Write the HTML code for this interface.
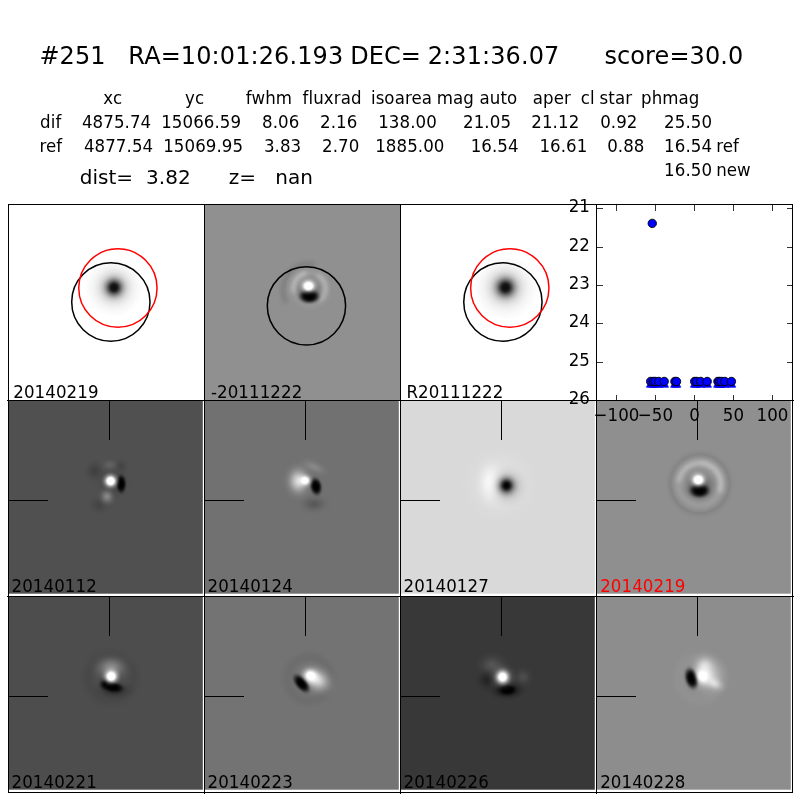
<!DOCTYPE html>
<html><head><meta charset="utf-8"><title>#251</title>
<style>html,body{margin:0;padding:0;background:#fff;width:800px;height:800px;overflow:hidden}svg{display:block}text{font-family:"DejaVu Sans","Liberation Sans",sans-serif;fill:#000;white-space:pre}.t{font-size:24px;letter-spacing:0.1px}.m{font-size:16.667px;letter-spacing:0.07px}.l{font-size:20px;letter-spacing:0.05px}</style></head><body>
<svg width="800" height="800" viewBox="0 0 800 800">
<rect width="800" height="800" fill="#fff"/>
<text class="t" transform="translate(0 63.75) scale(1 1.025)"><tspan x="39.40">#251</tspan> <tspan x="128.34">RA=10:01:26.193</tspan> <tspan x="350.14">DEC=</tspan> <tspan x="427.74">2:31:36.07</tspan> <tspan x="604.45">score=30.0</tspan></text>
<text class="m" transform="translate(0 103.75) scale(1 1.085)"><tspan x="103.27">xc</tspan> <tspan x="185.00">yc</tspan> <tspan x="245.87">fwhm</tspan> <tspan x="302.62">fluxrad</tspan> <tspan x="370.93">isoarea</tspan> <tspan x="436.74">mag</tspan> <tspan x="479.50">auto</tspan> <tspan x="532.75">aper</tspan> <tspan x="580.83">cl</tspan> <tspan x="599.60">star</tspan> <tspan x="640.99">phmag</tspan></text>
<text class="m" transform="translate(0 127.50) scale(1 1.085)"><tspan x="40.08">dif</tspan> <tspan x="81.89">4875.74</tspan> <tspan x="161.17">15066.59</tspan> <tspan x="262.07">8.06</tspan> <tspan x="319.98">2.16</tspan> <tspan x="378.17">138.00</tspan> <tspan x="463.03">21.05</tspan> <tspan x="531.28">21.12</tspan> <tspan x="600.15">0.92</tspan> <tspan x="664.08">25.50</tspan></text>
<text class="m" transform="translate(0 152.20) scale(1 1.085)"><tspan x="39.49">ref</tspan> <tspan x="83.89">4877.54</tspan> <tspan x="163.17">15069.95</tspan> <tspan x="263.93">3.83</tspan> <tspan x="321.98">2.70</tspan> <tspan x="375.17">1885.00</tspan> <tspan x="470.67">16.54</tspan> <tspan x="539.42">16.61</tspan> <tspan x="607.15">0.88</tspan> <tspan x="664.07">16.54</tspan> <tspan x="716.19">ref</tspan></text>
<text class="m" transform="translate(0 175.95) scale(1 1.085)"><tspan x="664.07">16.50</tspan> <tspan x="716.19">new</tspan></text>
<text class="l" transform="translate(0 184.00) scale(1 1.000)"><tspan x="79.65">dist=</tspan> <tspan x="145.98">3.82</tspan> <tspan x="228.64">z=</tspan> <tspan x="275.18">nan</tspan></text>
<rect x="8.50" y="204.50" width="196.00" height="196.00" fill="#ffffff"/>
<rect x="204.50" y="204.50" width="196.00" height="196.00" fill="#909090"/>
<rect x="400.50" y="204.50" width="196.00" height="196.00" fill="#ffffff"/>
<rect x="8.50" y="400.50" width="194.30" height="193.20" fill="#505050"/>
<rect x="204.50" y="400.50" width="194.30" height="193.20" fill="#717171"/>
<rect x="400.50" y="400.50" width="194.30" height="193.20" fill="#d9d9d9"/>
<rect x="596.50" y="400.50" width="194.30" height="193.20" fill="#8f8f8f"/>
<rect x="8.50" y="596.50" width="194.30" height="193.20" fill="#4d4d4d"/>
<rect x="204.50" y="596.50" width="194.30" height="193.20" fill="#737373"/>
<rect x="400.50" y="596.50" width="194.30" height="193.20" fill="#383838"/>
<rect x="596.50" y="596.50" width="194.30" height="193.20" fill="#8d8d8d"/>
<defs>
<filter id="b1" x="-100%" y="-100%" width="300%" height="300%" filterUnits="objectBoundingBox"><feGaussianBlur stdDeviation="1.2"/></filter>
<filter id="b2" x="-100%" y="-100%" width="300%" height="300%" filterUnits="objectBoundingBox"><feGaussianBlur stdDeviation="2.0"/></filter>
<filter id="b3" x="-100%" y="-100%" width="300%" height="300%" filterUnits="objectBoundingBox"><feGaussianBlur stdDeviation="3.0"/></filter>
<filter id="b5" x="-100%" y="-100%" width="300%" height="300%" filterUnits="objectBoundingBox"><feGaussianBlur stdDeviation="5.0"/></filter>
<radialGradient id="gal"><stop offset="0.0000" stop-color="#000" stop-opacity="0.950"/><stop offset="0.0833" stop-color="#000" stop-opacity="0.930"/><stop offset="0.1333" stop-color="#000" stop-opacity="0.850"/><stop offset="0.1833" stop-color="#000" stop-opacity="0.700"/><stop offset="0.2333" stop-color="#000" stop-opacity="0.550"/><stop offset="0.2833" stop-color="#000" stop-opacity="0.420"/><stop offset="0.3500" stop-color="#000" stop-opacity="0.280"/><stop offset="0.4333" stop-color="#000" stop-opacity="0.170"/><stop offset="0.5333" stop-color="#000" stop-opacity="0.100"/><stop offset="0.6667" stop-color="#000" stop-opacity="0.050"/><stop offset="0.8333" stop-color="#000" stop-opacity="0.020"/><stop offset="1.0000" stop-color="#000" stop-opacity="0.000"/></radialGradient>
<radialGradient id="gW"><stop offset="0.000" stop-color="#fff" stop-opacity="1.000"/><stop offset="0.050" stop-color="#fff" stop-opacity="0.988"/><stop offset="0.100" stop-color="#fff" stop-opacity="0.955"/><stop offset="0.150" stop-color="#fff" stop-opacity="0.902"/><stop offset="0.200" stop-color="#fff" stop-opacity="0.833"/><stop offset="0.250" stop-color="#fff" stop-opacity="0.752"/><stop offset="0.300" stop-color="#fff" stop-opacity="0.664"/><stop offset="0.350" stop-color="#fff" stop-opacity="0.572"/><stop offset="0.400" stop-color="#fff" stop-opacity="0.482"/><stop offset="0.450" stop-color="#fff" stop-opacity="0.397"/><stop offset="0.500" stop-color="#fff" stop-opacity="0.319"/><stop offset="0.550" stop-color="#fff" stop-opacity="0.250"/><stop offset="0.600" stop-color="#fff" stop-opacity="0.191"/><stop offset="0.650" stop-color="#fff" stop-opacity="0.142"/><stop offset="0.700" stop-color="#fff" stop-opacity="0.102"/><stop offset="0.750" stop-color="#fff" stop-opacity="0.071"/><stop offset="0.800" stop-color="#fff" stop-opacity="0.047"/><stop offset="0.850" stop-color="#fff" stop-opacity="0.029"/><stop offset="0.900" stop-color="#fff" stop-opacity="0.016"/><stop offset="0.950" stop-color="#fff" stop-opacity="0.007"/><stop offset="1.000" stop-color="#fff" stop-opacity="0.000"/></radialGradient>
<radialGradient id="gK"><stop offset="0.000" stop-color="#000" stop-opacity="1.000"/><stop offset="0.050" stop-color="#000" stop-opacity="0.988"/><stop offset="0.100" stop-color="#000" stop-opacity="0.955"/><stop offset="0.150" stop-color="#000" stop-opacity="0.902"/><stop offset="0.200" stop-color="#000" stop-opacity="0.833"/><stop offset="0.250" stop-color="#000" stop-opacity="0.752"/><stop offset="0.300" stop-color="#000" stop-opacity="0.664"/><stop offset="0.350" stop-color="#000" stop-opacity="0.572"/><stop offset="0.400" stop-color="#000" stop-opacity="0.482"/><stop offset="0.450" stop-color="#000" stop-opacity="0.397"/><stop offset="0.500" stop-color="#000" stop-opacity="0.319"/><stop offset="0.550" stop-color="#000" stop-opacity="0.250"/><stop offset="0.600" stop-color="#000" stop-opacity="0.191"/><stop offset="0.650" stop-color="#000" stop-opacity="0.142"/><stop offset="0.700" stop-color="#000" stop-opacity="0.102"/><stop offset="0.750" stop-color="#000" stop-opacity="0.071"/><stop offset="0.800" stop-color="#000" stop-opacity="0.047"/><stop offset="0.850" stop-color="#000" stop-opacity="0.029"/><stop offset="0.900" stop-color="#000" stop-opacity="0.016"/><stop offset="0.950" stop-color="#000" stop-opacity="0.007"/><stop offset="1.000" stop-color="#000" stop-opacity="0.000"/></radialGradient>
<radialGradient id="fW"><stop offset="0.000" stop-color="#fff" stop-opacity="1.000"/><stop offset="0.050" stop-color="#fff" stop-opacity="1.000"/><stop offset="0.100" stop-color="#fff" stop-opacity="0.999"/><stop offset="0.150" stop-color="#fff" stop-opacity="0.996"/><stop offset="0.200" stop-color="#fff" stop-opacity="0.988"/><stop offset="0.250" stop-color="#fff" stop-opacity="0.970"/><stop offset="0.300" stop-color="#fff" stop-opacity="0.939"/><stop offset="0.350" stop-color="#fff" stop-opacity="0.890"/><stop offset="0.400" stop-color="#fff" stop-opacity="0.821"/><stop offset="0.450" stop-color="#fff" stop-opacity="0.729"/><stop offset="0.500" stop-color="#fff" stop-opacity="0.617"/><stop offset="0.550" stop-color="#fff" stop-opacity="0.493"/><stop offset="0.600" stop-color="#fff" stop-opacity="0.368"/><stop offset="0.650" stop-color="#fff" stop-opacity="0.252"/><stop offset="0.700" stop-color="#fff" stop-opacity="0.156"/><stop offset="0.750" stop-color="#fff" stop-opacity="0.087"/><stop offset="0.800" stop-color="#fff" stop-opacity="0.042"/><stop offset="0.850" stop-color="#fff" stop-opacity="0.017"/><stop offset="0.900" stop-color="#fff" stop-opacity="0.006"/><stop offset="0.950" stop-color="#fff" stop-opacity="0.001"/><stop offset="1.000" stop-color="#fff" stop-opacity="0.000"/></radialGradient>
<radialGradient id="fK"><stop offset="0.000" stop-color="#000" stop-opacity="1.000"/><stop offset="0.050" stop-color="#000" stop-opacity="1.000"/><stop offset="0.100" stop-color="#000" stop-opacity="0.999"/><stop offset="0.150" stop-color="#000" stop-opacity="0.996"/><stop offset="0.200" stop-color="#000" stop-opacity="0.988"/><stop offset="0.250" stop-color="#000" stop-opacity="0.970"/><stop offset="0.300" stop-color="#000" stop-opacity="0.939"/><stop offset="0.350" stop-color="#000" stop-opacity="0.890"/><stop offset="0.400" stop-color="#000" stop-opacity="0.821"/><stop offset="0.450" stop-color="#000" stop-opacity="0.729"/><stop offset="0.500" stop-color="#000" stop-opacity="0.617"/><stop offset="0.550" stop-color="#000" stop-opacity="0.493"/><stop offset="0.600" stop-color="#000" stop-opacity="0.368"/><stop offset="0.650" stop-color="#000" stop-opacity="0.252"/><stop offset="0.700" stop-color="#000" stop-opacity="0.156"/><stop offset="0.750" stop-color="#000" stop-opacity="0.087"/><stop offset="0.800" stop-color="#000" stop-opacity="0.042"/><stop offset="0.850" stop-color="#000" stop-opacity="0.017"/><stop offset="0.900" stop-color="#000" stop-opacity="0.006"/><stop offset="0.950" stop-color="#000" stop-opacity="0.001"/><stop offset="1.000" stop-color="#000" stop-opacity="0.000"/></radialGradient>
<radialGradient id="hW"><stop offset="0.000" stop-color="#fff" stop-opacity="1.000"/><stop offset="0.050" stop-color="#fff" stop-opacity="0.999"/><stop offset="0.100" stop-color="#fff" stop-opacity="0.998"/><stop offset="0.150" stop-color="#fff" stop-opacity="0.997"/><stop offset="0.200" stop-color="#fff" stop-opacity="0.996"/><stop offset="0.250" stop-color="#fff" stop-opacity="0.996"/><stop offset="0.300" stop-color="#fff" stop-opacity="0.995"/><stop offset="0.350" stop-color="#fff" stop-opacity="0.916"/><stop offset="0.400" stop-color="#fff" stop-opacity="0.772"/><stop offset="0.450" stop-color="#fff" stop-opacity="0.635"/><stop offset="0.500" stop-color="#fff" stop-opacity="0.511"/><stop offset="0.550" stop-color="#fff" stop-opacity="0.400"/><stop offset="0.600" stop-color="#fff" stop-opacity="0.306"/><stop offset="0.650" stop-color="#fff" stop-opacity="0.227"/><stop offset="0.700" stop-color="#fff" stop-opacity="0.164"/><stop offset="0.750" stop-color="#fff" stop-opacity="0.114"/><stop offset="0.800" stop-color="#fff" stop-opacity="0.076"/><stop offset="0.850" stop-color="#fff" stop-opacity="0.047"/><stop offset="0.900" stop-color="#fff" stop-opacity="0.026"/><stop offset="0.950" stop-color="#fff" stop-opacity="0.011"/><stop offset="1.000" stop-color="#fff" stop-opacity="0.000"/></radialGradient>
<radialGradient id="hK"><stop offset="0.000" stop-color="#000" stop-opacity="1.000"/><stop offset="0.050" stop-color="#000" stop-opacity="0.999"/><stop offset="0.100" stop-color="#000" stop-opacity="0.998"/><stop offset="0.150" stop-color="#000" stop-opacity="0.997"/><stop offset="0.200" stop-color="#000" stop-opacity="0.996"/><stop offset="0.250" stop-color="#000" stop-opacity="0.996"/><stop offset="0.300" stop-color="#000" stop-opacity="0.995"/><stop offset="0.350" stop-color="#000" stop-opacity="0.916"/><stop offset="0.400" stop-color="#000" stop-opacity="0.772"/><stop offset="0.450" stop-color="#000" stop-opacity="0.635"/><stop offset="0.500" stop-color="#000" stop-opacity="0.511"/><stop offset="0.550" stop-color="#000" stop-opacity="0.400"/><stop offset="0.600" stop-color="#000" stop-opacity="0.306"/><stop offset="0.650" stop-color="#000" stop-opacity="0.227"/><stop offset="0.700" stop-color="#000" stop-opacity="0.164"/><stop offset="0.750" stop-color="#000" stop-opacity="0.114"/><stop offset="0.800" stop-color="#000" stop-opacity="0.076"/><stop offset="0.850" stop-color="#000" stop-opacity="0.047"/><stop offset="0.900" stop-color="#000" stop-opacity="0.026"/><stop offset="0.950" stop-color="#000" stop-opacity="0.011"/><stop offset="1.000" stop-color="#000" stop-opacity="0.000"/></radialGradient>
<clipPath id="cp00"><rect x="8.50" y="204.50" width="196.00" height="196.00"/></clipPath>
<clipPath id="cp01"><rect x="204.50" y="204.50" width="196.00" height="196.00"/></clipPath>
<clipPath id="cp02"><rect x="400.50" y="204.50" width="196.00" height="196.00"/></clipPath>
<clipPath id="cp03"><rect x="596.50" y="204.50" width="196.00" height="196.00"/></clipPath>
<clipPath id="cp10"><rect x="8.50" y="400.50" width="194.30" height="193.20"/></clipPath>
<clipPath id="cp11"><rect x="204.50" y="400.50" width="194.30" height="193.20"/></clipPath>
<clipPath id="cp12"><rect x="400.50" y="400.50" width="194.30" height="193.20"/></clipPath>
<clipPath id="cp13"><rect x="596.50" y="400.50" width="194.30" height="193.20"/></clipPath>
<clipPath id="cp20"><rect x="8.50" y="596.50" width="194.30" height="193.20"/></clipPath>
<clipPath id="cp21"><rect x="204.50" y="596.50" width="194.30" height="193.20"/></clipPath>
<clipPath id="cp22"><rect x="400.50" y="596.50" width="194.30" height="193.20"/></clipPath>
<clipPath id="cp23"><rect x="596.50" y="596.50" width="194.30" height="193.20"/></clipPath>
</defs>
<circle cx="114" cy="287.5" r="30" fill="url(#gal)"/>
<circle cx="505.5" cy="287.5" r="33" fill="url(#gal)"/>
<g clip-path="url(#cp01)">
<g filter="url(#b2)"><circle cx="309" cy="290" r="26" fill="none" stroke="#000" stroke-opacity="0.12" stroke-width="5" stroke-dasharray="60 200" transform="rotate(150 309 290)"/><circle cx="309.5" cy="288.5" r="15.8" fill="none" stroke="#fff" stroke-opacity="0.12" stroke-width="5"/><circle cx="309.5" cy="288.5" r="15.8" fill="none" stroke="#fff" stroke-opacity="0.32" stroke-width="5" stroke-dasharray="26 200" transform="rotate(165 309.5 288.5)"/><circle cx="309.5" cy="288.5" r="15.8" fill="none" stroke="#fff" stroke-opacity="0.26" stroke-width="5" stroke-dasharray="30 200" transform="rotate(300 309.5 288.5)"/></g>
<g><ellipse cx="309" cy="291" rx="19" ry="19" fill="url(#gK)" fill-opacity="0.45"/><ellipse cx="309.3" cy="296.4" rx="15" ry="10" fill="url(#fK)" fill-opacity="1"/><ellipse cx="308.5" cy="286" rx="12" ry="10.5" fill="url(#hW)" fill-opacity="1"/></g>
</g>
<g clip-path="url(#cp13)">
<g filter="url(#b2)"><circle cx="699.8" cy="484" r="28.5" fill="none" stroke="#000" stroke-opacity="0.1" stroke-width="5"/><circle cx="699.8" cy="484" r="21" fill="none" stroke="#fff" stroke-opacity="0.14" stroke-width="6"/><circle cx="699.8" cy="484" r="21" fill="none" stroke="#fff" stroke-opacity="0.26" stroke-width="6" stroke-dasharray="30 200" transform="rotate(185 699.8 484)"/><circle cx="699.8" cy="484" r="21" fill="none" stroke="#fff" stroke-opacity="0.32" stroke-width="6" stroke-dasharray="42 200" transform="rotate(268 699.8 484)"/><circle cx="699.5" cy="485" r="14" fill="none" stroke="#fff" stroke-opacity="0.12" stroke-width="4" stroke-dasharray="40 200" transform="rotate(170 699.5 485)"/></g>
<g><ellipse cx="699" cy="485" rx="22" ry="22" fill="url(#gK)" fill-opacity="0.5"/><ellipse cx="699.6" cy="490.6" rx="15" ry="10.5" fill="url(#fK)" fill-opacity="1"/><ellipse cx="698.3" cy="479.8" rx="12" ry="11" fill="url(#hW)" fill-opacity="1"/></g>
</g>
<g clip-path="url(#cp10)">
<g><ellipse cx="95" cy="471" rx="14" ry="15" fill="url(#gK)" fill-opacity="0.2"/><ellipse cx="99" cy="505" rx="15" ry="13" fill="url(#gK)" fill-opacity="0.15"/><ellipse cx="121" cy="466" rx="11" ry="11" fill="url(#gK)" fill-opacity="0.15"/><ellipse cx="113" cy="483" rx="22" ry="22" fill="url(#gK)" fill-opacity="0.2"/><ellipse cx="107" cy="496.5" rx="11" ry="12" fill="url(#gW)" fill-opacity="0.32"/><ellipse cx="110" cy="465" rx="13" ry="9" fill="url(#gW)" fill-opacity="0.1"/><ellipse cx="121.2" cy="484" rx="7.2" ry="13.5" fill="url(#fK)" fill-opacity="1"/><ellipse cx="110.6" cy="481" rx="10.5" ry="10.5" fill="url(#hW)" fill-opacity="1"/></g>
</g>
<g clip-path="url(#cp11)">
<g><ellipse cx="314" cy="504" rx="20" ry="12" fill="url(#gK)" fill-opacity="0.22"/><ellipse cx="314" cy="467" rx="20" ry="9" fill="url(#gW)" fill-opacity="0.16" transform="rotate(25 314 467)"/><ellipse cx="298.5" cy="481" rx="17" ry="21" fill="url(#gW)" fill-opacity="0.75"/><ellipse cx="316" cy="486.5" rx="8.5" ry="13" fill="url(#fK)" fill-opacity="1" transform="rotate(-10 316 486.5)"/><ellipse cx="304.8" cy="480.5" rx="9.5" ry="8.5" fill="url(#hW)" fill-opacity="1"/></g>
</g>
<g clip-path="url(#cp12)">
<g><ellipse cx="500" cy="484" rx="46" ry="46" fill="url(#gW)" fill-opacity="0.4"/><ellipse cx="491" cy="483" rx="18" ry="30" fill="url(#gW)" fill-opacity="0.95"/><ellipse cx="507" cy="486" rx="24" ry="24" fill="url(#gK)" fill-opacity="0.35"/><ellipse cx="506.5" cy="485.5" rx="13" ry="13.5" fill="url(#gK)" fill-opacity="1"/><ellipse cx="506.5" cy="485.5" rx="8" ry="8" fill="url(#gK)" fill-opacity="0.7"/></g>
</g>
<g clip-path="url(#cp20)">
<g filter="url(#b3)"><circle cx="111" cy="678" r="23" fill="none" stroke="#000" stroke-opacity="0.1" stroke-width="6"/></g>
<g><ellipse cx="111" cy="668" rx="24" ry="18" fill="url(#gW)" fill-opacity="0.36"/><ellipse cx="114" cy="690" rx="24" ry="12" fill="url(#gK)" fill-opacity="0.5"/><ellipse cx="105" cy="684" rx="9" ry="9" fill="url(#gK)" fill-opacity="0.9"/><ellipse cx="112.5" cy="687" rx="16" ry="7.5" fill="url(#fK)" fill-opacity="1" transform="rotate(10 112.5 687)"/><ellipse cx="111.2" cy="676.3" rx="11" ry="11" fill="url(#hW)" fill-opacity="1"/></g>
</g>
<g clip-path="url(#cp21)">
<g filter="url(#b3)"><circle cx="309" cy="679" r="22" fill="none" stroke="#000" stroke-opacity="0.08" stroke-width="6"/></g>
<g><ellipse cx="316.5" cy="679.5" rx="24" ry="18" fill="url(#gW)" fill-opacity="0.75" transform="rotate(30 316.5 679.5)"/><ellipse cx="301.5" cy="683.5" rx="8.5" ry="16" fill="url(#fK)" fill-opacity="1" transform="rotate(-40 301.5 683.5)"/><ellipse cx="311" cy="676" rx="12.5" ry="10.5" fill="url(#hW)" fill-opacity="1" transform="rotate(30 311 676)"/></g>
</g>
<g clip-path="url(#cp22)">
<g><ellipse cx="492" cy="665" rx="20" ry="16" fill="url(#gW)" fill-opacity="0.14"/><ellipse cx="523" cy="677" rx="13" ry="13" fill="url(#gW)" fill-opacity="0.1"/><ellipse cx="487" cy="680" rx="15" ry="15" fill="url(#gK)" fill-opacity="0.35"/><ellipse cx="507" cy="690" rx="22" ry="12" fill="url(#gK)" fill-opacity="1"/><ellipse cx="507.5" cy="689.8" rx="11" ry="7" fill="url(#fK)" fill-opacity="1"/><ellipse cx="502.6" cy="677" rx="16" ry="16" fill="url(#gW)" fill-opacity="0.5"/><ellipse cx="502.6" cy="677" rx="10" ry="10.5" fill="url(#hW)" fill-opacity="1"/></g>
</g>
<g clip-path="url(#cp23)">
<g filter="url(#b3)"><circle cx="700" cy="678" r="22" fill="none" stroke="#fff" stroke-opacity="0.06" stroke-width="6"/></g>
<g><ellipse cx="707" cy="675" rx="24" ry="26" fill="url(#gW)" fill-opacity="0.7" transform="rotate(-30 707 675)"/><ellipse cx="704.5" cy="666" rx="15" ry="15" fill="url(#gW)" fill-opacity="0.6"/><ellipse cx="714" cy="683" rx="16" ry="10" fill="url(#gW)" fill-opacity="0.6" transform="rotate(30 714 683)"/><ellipse cx="691.5" cy="678.5" rx="9.5" ry="16" fill="url(#fK)" fill-opacity="1" transform="rotate(-15 691.5 678.5)"/><ellipse cx="703" cy="676" rx="11" ry="13" fill="url(#hW)" fill-opacity="1" transform="rotate(-20 703 676)"/></g>
</g>
<g stroke="#000" stroke-width="1" fill="none" shape-rendering="crispEdges">
<line x1="8.5" y1="204" x2="8.5" y2="793"/>
<line x1="204.5" y1="204" x2="204.5" y2="794"/>
<line x1="400.5" y1="204" x2="400.5" y2="794"/>
<line x1="596.5" y1="204" x2="596.5" y2="794"/>
<line x1="792.5" y1="204" x2="792.5" y2="793"/>
<line x1="8" y1="204.5" x2="793" y2="204.5"/>
<line x1="7" y1="400.5" x2="794" y2="400.5"/>
<line x1="7" y1="596.5" x2="794" y2="596.5"/>
<line x1="8" y1="792.5" x2="793" y2="792.5"/>
<line x1="109.5" y1="400.0" x2="109.5" y2="439.8"/>
<line x1="8.0" y1="500.5" x2="48.0" y2="500.5"/>
<line x1="305.5" y1="400.0" x2="305.5" y2="439.8"/>
<line x1="204.0" y1="500.5" x2="244.0" y2="500.5"/>
<line x1="501.5" y1="400.0" x2="501.5" y2="439.8"/>
<line x1="400.0" y1="500.5" x2="440.0" y2="500.5"/>
<line x1="697.5" y1="400.0" x2="697.5" y2="439.8"/>
<line x1="596.0" y1="500.5" x2="636.0" y2="500.5"/>
<line x1="109.5" y1="596.0" x2="109.5" y2="635.8"/>
<line x1="8.0" y1="696.5" x2="48.0" y2="696.5"/>
<line x1="305.5" y1="596.0" x2="305.5" y2="635.8"/>
<line x1="204.0" y1="696.5" x2="244.0" y2="696.5"/>
<line x1="501.5" y1="596.0" x2="501.5" y2="635.8"/>
<line x1="400.0" y1="696.5" x2="440.0" y2="696.5"/>
<line x1="697.5" y1="596.0" x2="697.5" y2="635.8"/>
<line x1="596.0" y1="696.5" x2="636.0" y2="696.5"/>
</g>
<g fill="none" stroke-width="1.5">
<circle cx="110.85" cy="302" r="39.15" stroke="#000"/>
<circle cx="117.9" cy="288" r="39.15" stroke="#f00"/>
<circle cx="306.45" cy="305.8" r="39.15" stroke="#000"/>
<circle cx="502.9" cy="302" r="39.15" stroke="#000"/>
<circle cx="509.8" cy="288" r="39.15" stroke="#f00"/>
</g>
<text class="m" transform="translate(13.28 397.75) scale(1 1.085)">20140219</text>
<text class="m" transform="translate(210.94 397.75) scale(1 1.085)">-20111222</text>
<text class="m" transform="translate(406.41 397.75) scale(1 1.085)">R20111222</text>
<text class="m" transform="translate(11.53 592.10) scale(1 1.085)">20140112</text>
<text class="m" transform="translate(207.53 592.10) scale(1 1.085)">20140124</text>
<text class="m" transform="translate(403.53 592.10) scale(1 1.085)">20140127</text>
<text class="m" transform="translate(600.18 592.10) scale(1 1.085)" style="fill:#f00">20140219</text>
<text class="m" transform="translate(11.53 788.10) scale(1 1.085)">20140221</text>
<text class="m" transform="translate(207.53 788.10) scale(1 1.085)">20140223</text>
<text class="m" transform="translate(403.53 788.10) scale(1 1.085)">20140226</text>
<text class="m" transform="translate(600.18 788.10) scale(1 1.085)">20140228</text>
<g stroke="#000" stroke-opacity="0.8" stroke-width="1" shape-rendering="crispEdges">
<line x1="616.5" y1="400" x2="616.5" y2="394.5"/>
<line x1="616.5" y1="205" x2="616.5" y2="210.5"/>
<line x1="655.5" y1="400" x2="655.5" y2="394.5"/>
<line x1="655.5" y1="205" x2="655.5" y2="210.5"/>
<line x1="694.5" y1="400" x2="694.5" y2="394.5"/>
<line x1="694.5" y1="205" x2="694.5" y2="210.5"/>
<line x1="733.5" y1="400" x2="733.5" y2="394.5"/>
<line x1="733.5" y1="205" x2="733.5" y2="210.5"/>
<line x1="772.5" y1="400" x2="772.5" y2="394.5"/>
<line x1="772.5" y1="205" x2="772.5" y2="210.5"/>
<line x1="597" y1="208.5" x2="602.5" y2="208.5"/>
<line x1="792" y1="208.5" x2="786.5" y2="208.5"/>
<line x1="597" y1="247.5" x2="602.5" y2="247.5"/>
<line x1="792" y1="247.5" x2="786.5" y2="247.5"/>
<line x1="597" y1="285.5" x2="602.5" y2="285.5"/>
<line x1="792" y1="285.5" x2="786.5" y2="285.5"/>
<line x1="597" y1="323.5" x2="602.5" y2="323.5"/>
<line x1="792" y1="323.5" x2="786.5" y2="323.5"/>
<line x1="597" y1="362.5" x2="602.5" y2="362.5"/>
<line x1="792" y1="362.5" x2="786.5" y2="362.5"/>
</g>
<text class="m" transform="translate(590.00 212.40) scale(1 1.085)" text-anchor="end">21</text>
<text class="m" transform="translate(590.00 251.40) scale(1 1.085)" text-anchor="end">22</text>
<text class="m" transform="translate(590.00 289.40) scale(1 1.085)" text-anchor="end">23</text>
<text class="m" transform="translate(590.00 327.40) scale(1 1.085)" text-anchor="end">24</text>
<text class="m" transform="translate(590.00 366.40) scale(1 1.085)" text-anchor="end">25</text>
<text class="m" transform="translate(590.00 404.40) scale(1 1.085)" text-anchor="end">26</text>
<text class="m" transform="translate(616.50 420.70) scale(1 1.085)" text-anchor="middle">−100</text>
<text class="m" transform="translate(655.50 420.70) scale(1 1.085)" text-anchor="middle">−50</text>
<text class="m" transform="translate(694.50 420.70) scale(1 1.085)" text-anchor="middle">0</text>
<text class="m" transform="translate(733.50 420.70) scale(1 1.085)" text-anchor="middle">50</text>
<text class="m" transform="translate(772.50 420.70) scale(1 1.085)" text-anchor="middle">100</text>
<g>
<path d="M650.70 378.70 l4.3 8.6 h-8.6z" fill="#00f" stroke="#00f" stroke-width="0.7"/>
<path d="M653.20 378.70 l4.3 8.6 h-8.6z" fill="#00f" stroke="#00f" stroke-width="0.7"/>
<path d="M655.20 378.70 l4.3 8.6 h-8.6z" fill="#00f" stroke="#00f" stroke-width="0.7"/>
<path d="M658.70 378.70 l4.3 8.6 h-8.6z" fill="#00f" stroke="#00f" stroke-width="0.7"/>
<path d="M664.20 378.70 l4.3 8.6 h-8.6z" fill="#00f" stroke="#00f" stroke-width="0.7"/>
<path d="M674.90 378.70 l4.3 8.6 h-8.6z" fill="#00f" stroke="#00f" stroke-width="0.7"/>
<path d="M676.50 378.70 l4.3 8.6 h-8.6z" fill="#00f" stroke="#00f" stroke-width="0.7"/>
<path d="M694.70 378.70 l4.3 8.6 h-8.6z" fill="#00f" stroke="#00f" stroke-width="0.7"/>
<path d="M696.60 378.70 l4.3 8.6 h-8.6z" fill="#00f" stroke="#00f" stroke-width="0.7"/>
<path d="M700.70 378.70 l4.3 8.6 h-8.6z" fill="#00f" stroke="#00f" stroke-width="0.7"/>
<path d="M707.20 378.70 l4.3 8.6 h-8.6z" fill="#00f" stroke="#00f" stroke-width="0.7"/>
<path d="M717.90 378.70 l4.3 8.6 h-8.6z" fill="#00f" stroke="#00f" stroke-width="0.7"/>
<path d="M719.60 378.70 l4.3 8.6 h-8.6z" fill="#00f" stroke="#00f" stroke-width="0.7"/>
<path d="M721.50 378.70 l4.3 8.6 h-8.6z" fill="#00f" stroke="#00f" stroke-width="0.7"/>
<path d="M724.80 378.70 l4.3 8.6 h-8.6z" fill="#00f" stroke="#00f" stroke-width="0.7"/>
<path d="M731.40 378.70 l4.3 8.6 h-8.6z" fill="#00f" stroke="#00f" stroke-width="0.7"/>
<circle cx="650.70" cy="381.45" r="4.2" fill="#00f" stroke="#000" stroke-width="0.9"/>
<circle cx="653.20" cy="381.45" r="4.2" fill="#00f" stroke="#000" stroke-width="0.9"/>
<circle cx="655.20" cy="381.45" r="4.2" fill="#00f" stroke="#000" stroke-width="0.9"/>
<circle cx="658.70" cy="381.45" r="4.2" fill="#00f" stroke="#000" stroke-width="0.9"/>
<circle cx="664.20" cy="381.45" r="4.2" fill="#00f" stroke="#000" stroke-width="0.9"/>
<circle cx="674.90" cy="381.45" r="4.2" fill="#00f" stroke="#000" stroke-width="0.9"/>
<circle cx="676.50" cy="381.45" r="4.2" fill="#00f" stroke="#000" stroke-width="0.9"/>
<circle cx="694.70" cy="381.45" r="4.2" fill="#00f" stroke="#000" stroke-width="0.9"/>
<circle cx="696.60" cy="381.45" r="4.2" fill="#00f" stroke="#000" stroke-width="0.9"/>
<circle cx="700.70" cy="381.45" r="4.2" fill="#00f" stroke="#000" stroke-width="0.9"/>
<circle cx="707.20" cy="381.45" r="4.2" fill="#00f" stroke="#000" stroke-width="0.9"/>
<circle cx="717.90" cy="381.45" r="4.2" fill="#00f" stroke="#000" stroke-width="0.9"/>
<circle cx="719.60" cy="381.45" r="4.2" fill="#00f" stroke="#000" stroke-width="0.9"/>
<circle cx="721.50" cy="381.45" r="4.2" fill="#00f" stroke="#000" stroke-width="0.9"/>
<circle cx="724.80" cy="381.45" r="4.2" fill="#00f" stroke="#000" stroke-width="0.9"/>
<circle cx="731.40" cy="381.45" r="4.2" fill="#00f" stroke="#000" stroke-width="0.9"/>
<circle cx="652.25" cy="223.4" r="4.2" fill="#00f" stroke="#000" stroke-width="0.9"/>
</g>
</svg></body></html>
